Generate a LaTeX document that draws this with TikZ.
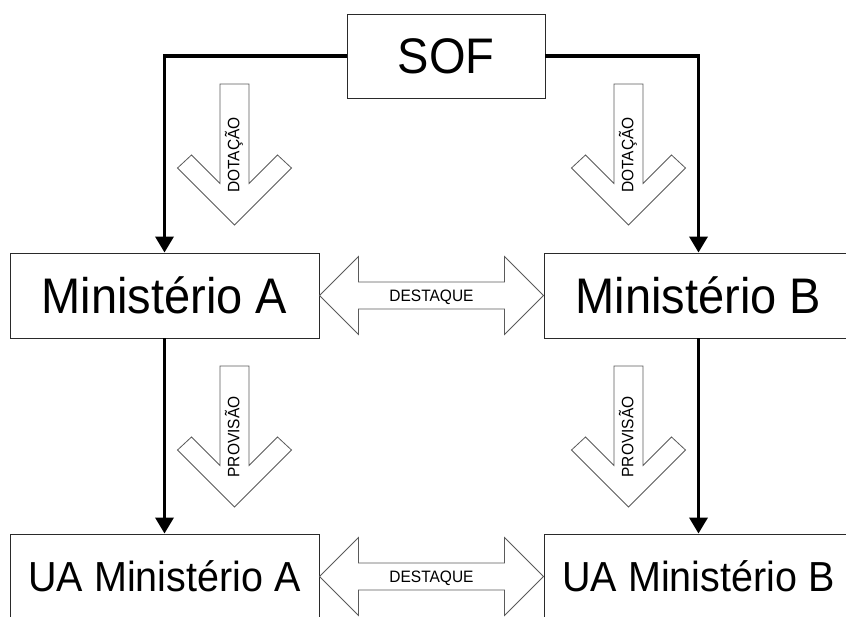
\documentclass[tikz,border=0pt]{standalone}
\usepackage{fontspec}
\setmainfont[FakeStretch=0.94]{Liberation Sans}
\usetikzlibrary{arrows.meta,calc}

\definecolor{boxline}{HTML}{2A2A2A}
\definecolor{blockline}{HTML}{5A5A5A}

\tikzset{
  unitbox/.style={draw=boxline, line width=0.9pt, fill=white, inner sep=0pt,
    minimum width=309pt, minimum height=85pt,
    text height=35.8pt, text depth=0pt, font=\fontsize{50}{60}\selectfont},
  topbox/.style={unitbox, minimum width=198pt, minimum height=84pt},
  subbox/.style={unitbox, text height=30pt, font=\fontsize{42}{50}\selectfont},
  conn/.style={line width=3.5pt, line join=miter,
    -{Triangle[width=18pt,length=16pt]}},
  block/.style={draw=blockline, line width=0.8pt, fill=white, line join=miter},
  blocklabel/.style={inner sep=0pt, text height=11.8pt, text depth=0pt,
    font=\fontsize{16.5}{20}\selectfont},
  pics/downblock/.style={code={
    \draw[block] (-14.5,0) -- (-14.5,99.5) -- (-43,71) -- (-57,84) -- (0,141)
      -- (57,84) -- (43,71) -- (14.5,99.5) -- (14.5,0) -- cycle;
    \node[blocklabel, rotate=90] (-label) at (-1,71) {#1};
  }},
}

\begin{document}
\begin{tikzpicture}[x=1pt, y=-1pt]
  \useasboundingbox (0,0) rectangle (846,616);
  \clip (0,0) rectangle (846,616);

  % units
  \node[topbox] (sof) at (446,56) {SOF};
  \node[unitbox] (ma) at (164.5,295.5) {Ministério A};
  \node[unitbox] (mb) at (698.5,295.5) {Ministério B};
  \node[subbox] (uaa) at (164.5,576.5) {UA Ministério A};
  \node[subbox] (uab) at (698.5,576.5) {UA Ministério B};

  % hierarchy links
  \draw[conn] (sof.west) -| (ma.north);
  \draw[conn] (sof.east) -| (mb.north);
  \draw[conn] (ma.south) -- (uaa.north);
  \draw[conn] (mb.south) -- (uab.north);

  % budget flows
  \pic (dota) at (234.5,84) {downblock=DOTAÇÃO};
  \pic (dotb) at (628.5,84) {downblock=DOTAÇÃO};
  \pic (prova) at (234.5,366) {downblock=PROVISÃO};
  \pic (provb) at (628.5,366) {downblock=PROVISÃO};

  % transfers between ministries
  \draw[block] (ma.east) -- ++(39,-39) -- ++(0,25.5)
    -- ($(mb.west)+(-39,-13.5)$) -- ++(0,-25.5) -- (mb.west)
    -- ++(-39,39) -- ++(0,-25.5) -- ($(ma.east)+(39,13.5)$)
    -- ++(0,25.5) -- cycle;
  \node[blocklabel] (desta) at ($(ma.east)!0.5!(mb.west)$) {DESTAQUE};

  \draw[block] (uaa.east) -- ++(39,-39) -- ++(0,25.5)
    -- ($(uab.west)+(-39,-13.5)$) -- ++(0,-25.5) -- (uab.west)
    -- ++(-39,39) -- ++(0,-25.5) -- ($(uaa.east)+(39,13.5)$)
    -- ++(0,25.5) -- cycle;
  \node[blocklabel] (destb) at ($(uaa.east)!0.5!(uab.west)$) {DESTAQUE};
\end{tikzpicture}
\end{document}
